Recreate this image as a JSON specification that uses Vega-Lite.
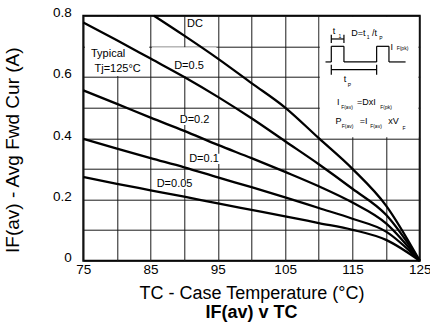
{
  "$schema": "https://vega.github.io/schema/vega-lite/v6.json",
  "width": 336.4,
  "height": 245,
  "autosize": {"type": "none"},
  "padding": {"left": 83.3, "top": 15.7, "right": 10.3, "bottom": 69.3},
  "background": "white",
  "config": {
    "font": "Liberation Sans",
    "view": {"stroke": "black", "strokeWidth": 2},
    "axis": {"labelColor": "black", "titleColor": "black", "gridColor": "#1a1a1a", "gridWidth": 1, "gridOpacity": 1, "ticks": false, "domain": false, "labelFlush": false, "labelOverlap": false}
  },
  "title": {"text": "IF(av) v TC", "orient": "bottom", "anchor": "middle", "fontSize": 18, "fontWeight": "bold", "color": "black", "offset": 2},
  "datasets": {
    "curves": [
      {"series": "DC", "T": 85.5, "v": 0.8}, {"series": "DC", "T": 90, "v": 0.735}, {"series": "DC", "T": 95, "v": 0.66}, {"series": "DC", "T": 100, "v": 0.58}, {"series": "DC", "T": 105, "v": 0.5}, {"series": "DC", "T": 110, "v": 0.4}, {"series": "DC", "T": 115, "v": 0.3}, {"series": "DC", "T": 120, "v": 0.18}, {"series": "DC", "T": 125, "v": 0},
      {"series": "D=0.5", "T": 75, "v": 0.778}, {"series": "D=0.5", "T": 80, "v": 0.72}, {"series": "D=0.5", "T": 85, "v": 0.66}, {"series": "D=0.5", "T": 90, "v": 0.6}, {"series": "D=0.5", "T": 95, "v": 0.535}, {"series": "D=0.5", "T": 100, "v": 0.465}, {"series": "D=0.5", "T": 105, "v": 0.39}, {"series": "D=0.5", "T": 110, "v": 0.315}, {"series": "D=0.5", "T": 115, "v": 0.235}, {"series": "D=0.5", "T": 120, "v": 0.15}, {"series": "D=0.5", "T": 125, "v": 0},
      {"series": "D=0.2", "T": 75, "v": 0.556}, {"series": "D=0.2", "T": 80, "v": 0.512}, {"series": "D=0.2", "T": 85, "v": 0.467}, {"series": "D=0.2", "T": 90, "v": 0.424}, {"series": "D=0.2", "T": 95, "v": 0.378}, {"series": "D=0.2", "T": 100, "v": 0.335}, {"series": "D=0.2", "T": 105, "v": 0.29}, {"series": "D=0.2", "T": 110, "v": 0.243}, {"series": "D=0.2", "T": 115, "v": 0.19}, {"series": "D=0.2", "T": 120, "v": 0.122}, {"series": "D=0.2", "T": 125, "v": 0},
      {"series": "D=0.1", "T": 75, "v": 0.398}, {"series": "D=0.1", "T": 80, "v": 0.366}, {"series": "D=0.1", "T": 85, "v": 0.335}, {"series": "D=0.1", "T": 90, "v": 0.305}, {"series": "D=0.1", "T": 95, "v": 0.272}, {"series": "D=0.1", "T": 100, "v": 0.24}, {"series": "D=0.1", "T": 105, "v": 0.207}, {"series": "D=0.1", "T": 110, "v": 0.172}, {"series": "D=0.1", "T": 115, "v": 0.137}, {"series": "D=0.1", "T": 120, "v": 0.095}, {"series": "D=0.1", "T": 125, "v": 0},
      {"series": "D=0.05", "T": 75, "v": 0.273}, {"series": "D=0.05", "T": 80, "v": 0.251}, {"series": "D=0.05", "T": 85, "v": 0.23}, {"series": "D=0.05", "T": 90, "v": 0.209}, {"series": "D=0.05", "T": 95, "v": 0.187}, {"series": "D=0.05", "T": 100, "v": 0.166}, {"series": "D=0.05", "T": 105, "v": 0.145}, {"series": "D=0.05", "T": 110, "v": 0.123}, {"series": "D=0.05", "T": 115, "v": 0.101}, {"series": "D=0.05", "T": 120, "v": 0.068}, {"series": "D=0.05", "T": 125, "v": 0}
    ],
    "boxes": [
      {"T": 75.25, "T2": 84.8, "v": 0.603, "v2": 0.796},
      {"T": 85.2, "T2": 94.8, "v": 0.603, "v2": 0.697},
      {"T": 89.1, "T2": 94.0, "v": 0.443, "v2": 0.476},
      {"T": 90.5, "T2": 95.4, "v": 0.316, "v2": 0.349},
      {"T": 85.8, "T2": 91.4, "v": 0.234, "v2": 0.267},
      {"T": 110.15, "T2": 124.8, "v": 0.403, "v2": 0.796}
    ],
    "labels": [
      {"txt": "DC", "T": 91.6, "v": 0.773},
      {"txt": "D=0.5", "T": 90.71, "v": 0.636},
      {"txt": "D=0.2", "T": 91.53, "v": 0.459},
      {"txt": "D=0.1", "T": 92.94, "v": 0.332},
      {"txt": "D=0.05", "T": 88.56, "v": 0.25}
    ],
    "notes": [
      {"txt": "Typical", "T": 76.14, "v": 0.675},
      {"txt": "Tj=125°C", "T": 76.66, "v": 0.626}
    ],
    "schematic": [
      {"T": 111.0, "v": 0.649, "T2": 111.86, "v2": 0.649},
      {"T": 111.86, "v": 0.649, "T2": 111.86, "v2": 0.7},
      {"T": 111.86, "v": 0.7, "T2": 113.74, "v2": 0.7},
      {"T": 113.74, "v": 0.7, "T2": 113.74, "v2": 0.649},
      {"T": 113.74, "v": 0.649, "T2": 118.6, "v2": 0.649},
      {"T": 118.6, "v": 0.649, "T2": 118.6, "v2": 0.7},
      {"T": 118.6, "v": 0.7, "T2": 120.43, "v2": 0.7},
      {"T": 120.43, "v": 0.7, "T2": 120.43, "v2": 0.649},
      {"T": 120.43, "v": 0.649, "T2": 122.9, "v2": 0.649},
      {"T": 111.86, "v": 0.711, "T2": 111.86, "v2": 0.738},
      {"T": 113.74, "v": 0.711, "T2": 113.74, "v2": 0.738},
      {"T": 111.86, "v": 0.724, "T2": 113.74, "v2": 0.724},
      {"T": 111.86, "v": 0.607, "T2": 111.86, "v2": 0.64},
      {"T": 118.6, "v": 0.607, "T2": 118.6, "v2": 0.64},
      {"T": 111.86, "v": 0.624, "T2": 118.6, "v2": 0.624}
    ],
    "schemMain": [
      {"txt": "t", "T": 112.26, "v": 0.75},
      {"txt": "D=t", "T": 115.9, "v": 0.742},
      {"txt": "/t", "T": 118.28, "v": 0.742},
      {"txt": "I", "T": 120.84, "v": 0.698},
      {"txt": "t", "T": 113.9, "v": 0.593},
      {"txt": "I", "T": 112.9, "v": 0.518},
      {"txt": "=DxI", "T": 117.09, "v": 0.518},
      {"txt": "P", "T": 112.93, "v": 0.456},
      {"txt": "=I", "T": 116.65, "v": 0.456},
      {"txt": "xV", "T": 121.11, "v": 0.456}
    ],
    "schemSub": [
      {"txt": "1", "T": 113.15, "v": 0.734},
      {"txt": "1", "T": 117.32, "v": 0.73},
      {"txt": "P", "T": 119.25, "v": 0.727},
      {"txt": "F(pk)", "T": 122.44, "v": 0.695},
      {"txt": "P", "T": 114.57, "v": 0.574},
      {"txt": "F(av)", "T": 114.19, "v": 0.502},
      {"txt": "F(pk)", "T": 119.99, "v": 0.502},
      {"txt": "F(av)", "T": 114.27, "v": 0.44},
      {"txt": "F(av)", "T": 118.5, "v": 0.44},
      {"txt": "F", "T": 122.67, "v": 0.433}
    ]
  },
  "encoding": {
    "x": {"field": "T", "type": "quantitative", "scale": {"domain": [75, 125], "nice": false, "zero": false},
      "axis": {"values": [75, 80, 85, 90, 95, 100, 105, 110, 115, 120, 125], "labelExpr": "datum.value % 10 == 5 ? datum.label : ''", "labelFontSize": 13.5, "labelPadding": 2, "title": "TC - Case Temperature (°C)", "titleFontSize": 18, "titleFontWeight": "normal", "titleY": 37.3, "titleBaseline": "alphabetic"}},
    "y": {"field": "v", "type": "quantitative", "scale": {"domain": [0, 0.8], "nice": false},
      "axis": {"values": [0, 0.1, 0.2, 0.3, 0.4, 0.5, 0.6, 0.7, 0.8], "format": ".1~f", "labelExpr": "round(datum.value * 10) % 2 == 0 ? datum.label : ''", "labelFontSize": 13.5, "labelPadding": 12, "labelOffset": -3, "title": "IF(av) - Avg Fwd Cur (A)", "titleFontSize": 19, "titleFontWeight": "normal", "titleX": -64.7, "titleY": 134, "titleAngle": -90, "titleBaseline": "alphabetic", "titleAlign": "center"}}
  },
  "layer": [
    {"data": {"name": "boxes"}, "mark": {"type": "rect", "color": "white", "opacity": 1},
     "encoding": {"x2": {"field": "T2"}, "y2": {"field": "v2"}}},
    {"data": {"name": "curves"}, "mark": {"type": "line", "color": "black", "strokeWidth": 2.3, "interpolate": "monotone"},
     "encoding": {"detail": {"field": "series"}}},
    {"data": {"name": "schematic"}, "mark": {"type": "rule", "color": "black", "strokeWidth": 1.2},
     "encoding": {"x2": {"field": "T2"}, "y2": {"field": "v2"}}},
    {"data": {"name": "labels"}, "mark": {"type": "text", "fontSize": 11, "color": "black", "align": "center", "baseline": "middle"},
     "encoding": {"text": {"field": "txt"}}},
    {"data": {"name": "notes"}, "mark": {"type": "text", "fontSize": 11, "color": "black", "align": "left", "baseline": "middle"},
     "encoding": {"text": {"field": "txt"}}},
    {"data": {"name": "schemMain"}, "mark": {"type": "text", "fontSize": 9, "color": "black", "align": "center", "baseline": "middle"},
     "encoding": {"text": {"field": "txt"}}},
    {"data": {"name": "schemSub"}, "mark": {"type": "text", "fontSize": 5, "color": "black", "align": "center", "baseline": "middle"},
     "encoding": {"text": {"field": "txt"}}}
  ]
}
